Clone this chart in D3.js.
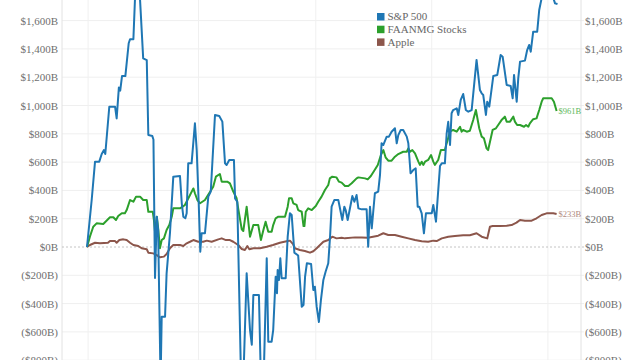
<!DOCTYPE html>
<html>
<head>
<meta charset="utf-8">
<script src="https://cdn.jsdelivr.net/npm/d3@7"></script>
<style>
  html, body { margin: 0; padding: 0; background: #fff; }
  svg { display: block; font-family: "Liberation Serif", "DejaVu Serif", serif; }
</style>
</head>
<body>
<svg id="chart" width="640" height="360"></svg>
<script>
// x unit: weeks since start of series
const seriesNames = ["S&P 500", "FAANMG Stocks", "Apple"];
const seriesColors = ["#1f77b4", "#2ca02c", "#8c564b"];
const yTicks = [-800, -600, -400, -200, 0, 200, 400, 600, 800, 1000, 1200, 1400, 1600];
const yearGridWeeks = [0.5, 50, 102.6, 154.6, 206.7];

const sp500 = [
 [0,0],[2.1,332],[3.6,603],[5.5,603],[6.6,657],[7.6,685],[8.2,657],[10,991],[12.6,991],[13.3,909],
 [14.3,1128],[14.9,1105],[15.7,1208],[17.2,1208],[18.7,1440],[19.3,1468],[20.8,1468],[21.5,1745],[22.6,1900],
 [23.8,1745],[25.2,1333],[26.8,1321],[27.5,791],[29.3,784],[29.8,760],[30.5,-219],[31.3,214],[31.9,120],
 [33.0,-950],[33.5,-493],[35.0,-493],[35.7,-186],[37.2,97],[38.7,497],[41.7,502],[42.5,309],[43.2,214],
 [44.1,203],[44.7,238],[45.4,591],[46.9,591],[48.4,874],[49.2,685],[50.1,309],[50.8,-33],[51.4,97],[52.9,97],
 [54.4,356],[55.5,391],[57.4,933],[59.3,926],[60.7,886],[61.9,591],[62.6,580],[63.8,615],[65.9,615],[66.4,343],
 [67.4,320],[69.1,-950],[70.1,-950],[71.6,-186],[73.1,-587],[73.9,-690],[74.6,-339],[77.1,-339],[78.0,-950],
 [79.2,-950],[80.6,-80],[81.3,-669],[82.8,-669],[83.5,-587],[84.6,-210],[85.2,-327],[85.5,-163],[86.1,-233],
 [86.7,-80],[87.3,-221],[89.1,-221],[90.0,73],[91.0,238],[91.8,226],[93.0,-40],[94.7,-60],[96.3,-422],[97.1,-410],
 [97.8,-210],[98.6,-115],[100.5,-120],[101.5,-304],[102.2,-281],[103.0,-422],[104.0,-530],[104.9,-375],
 [106.0,-233],[107.0,-175],[108.2,-115],[109.0,73],[109.7,285],[110.9,332],[112.7,332],[114.5,191],[115.4,285],
 [116.0,261],[116.9,191],[119.0,360],[119.9,320],[120.9,367],[121.7,273],[123.2,266],[125.4,266],[126.1,2],
 [126.9,285],[127.7,132],[129.1,380],[130.6,391],[131.4,509],[132.1,733],[132.9,721],[134.4,780],[135.4,780],
 [136.6,815],[138.1,839],[138.9,733],[139.6,791],[140.7,827],[141.8,827],[143.4,780],[144.1,733],[145.1,521],
 [146.3,544],[147.4,556],[148.3,285],[149.0,285],[150.1,238],[151.1,97],[152.0,238],[154.6,238],[155.3,297],
 [156.5,179],[158.3,572],[159.1,591],[160.5,591],[161.3,803],[162.0,885],[162.8,721],[163.5,945],[164.2,968],
 [165.8,980],[166.5,933],[167.6,1039],[168.7,1081],[169.9,968],[171.0,956],[172.5,968],[174.7,1322],[176.2,1110],
 [177.0,1086],[177.7,1074],[178.9,933],[179.5,1027],[180.4,992],[181.5,1122],[182.2,1208],[184.0,1216],
 [185.5,1357],[186.4,1345],[188.2,1145],[190.0,1138],[190.9,1051],[191.5,1216],[192.7,1027],[193.4,1192],
 [194.2,1310],[196.4,1317],[197.4,1392],[198.3,1428],[199.0,1380],[200.1,1522],[201.9,1522],[202.8,1675],
 [203.9,1760],[205.4,1830],[207.6,1820],[209.1,1760],[209.9,1722],[211.0,1717]
];

const faanmg = [
 [0,0],[1.3,73],[2.8,143],[4.3,167],[7.3,163],[10.3,210],[11.8,210],[13.0,191],[14.0,219],[15.6,238],[17.0,238],
 [17.8,261],[19.3,332],[20.8,320],[22.0,356],[23.8,356],[25.2,332],[26.8,332],[27.5,249],[29.5,249],[30.0,191],
 [30.5,108],[31.3,214],[32.0,120],[32.7,-9],[33.5,49],[34.5,61],[35.7,120],[36.9,155],[38.0,214],[38.7,273],
 [41.7,273],[42.9,285],[43.9,297],[46.2,367],[47.7,414],[48.4,380],[49.5,332],[50.7,309],[52.9,332],[55.2,391],
 [56.6,426],[57.8,497],[59.6,516],[60.4,462],[62.9,462],[64.1,450],[65.6,391],[67.1,344],[67.8,273],[69.4,125],
 [70.1,113],[71.6,285],[72.6,143],[73.1,73],[74.6,155],[76.8,155],[78.0,49],[79.1,120],[80.1,179],[81.3,108],
 [82.8,108],[83.5,155],[84.6,203],[85.8,214],[88.8,214],[90.0,285],[90.6,344],[91.8,344],[92.5,309],[94.0,297],
 [94.7,261],[96.3,249],[97.1,148],[97.5,148],[98.1,249],[99.2,273],[100.8,261],[102.6,290],[103.7,320],
 [105.2,356],[106.7,403],[108.2,438],[108.9,485],[110.0,497],[111.9,492],[113.0,462],[114.2,455],[115.7,431],
 [117.2,431],[118.7,450],[120.9,485],[121.7,492],[124.7,485],[125.9,478],[127.3,502],[128.8,539],[130.4,580],
 [131.8,650],[132.9,685],[133.9,634],[135.1,610],[136.6,610],[138.1,638],[139.6,657],[141.8,673],[143.4,673],
 [144.1,697],[144.9,673],[145.9,685],[147.1,662],[148.6,603],[149.3,580],[150.1,603],[150.8,580],[151.6,603],
 [153.0,615],[154.3,650],[155.3,603],[156.0,580],[157.5,615],[158.7,685],[160.5,685],[161.3,733],[162.8,815],
 [164.2,827],[165.8,815],[167.3,850],[168.0,815],[168.7,827],[170.3,815],[171.7,821],[173.2,897],[174.4,968],
 [175.9,839],[177.0,780],[178.0,768],[179.2,697],[179.9,685],[181.9,827],[183.4,839],[184.4,862],[185.9,897],
 [187.4,921],[188.2,886],[189.7,886],[191.2,921],[191.9,886],[192.9,862],[194.2,862],[196.0,850],[196.9,862],
 [197.9,850],[198.6,874],[200.1,903],[201.6,909],[202.8,968],[203.9,1027],[204.6,1051],[208.4,1051],
 [209.4,1027],[210.6,961]
];

const apple = [
 [0,0],[1.3,14],[3.6,30],[5.8,26],[9.4,30],[10.3,42],[12.6,42],[13.3,30],[14.5,49],[16.3,54],[17.8,49],
 [19.3,30],[20.8,14],[23.0,7],[24.5,-9],[26.8,-16],[27.5,-40],[29.7,-45],[31.3,-57],[32.7,-73],[34.5,-68],
 [35.7,-49],[37.2,-9],[38.7,14],[41.7,14],[43.2,7],[44.7,26],[46.2,37],[47.7,49],[49.9,37],[52.1,37],[53.7,45],
 [55.9,37],[58.9,54],[60.4,61],[62.3,49],[64.1,49],[65.6,37],[67.8,14],[69.4,-14],[70.8,-21],[71.9,7],
 [72.8,-16],[74.6,-9],[77.6,-9],[80.6,2],[83.4,14],[86.5,30],[89.5,40],[91.0,45],[92.4,20],[93.2,-9],
 [95.5,-21],[97.7,-28],[100.0,-40],[101.5,-30],[103.0,-9],[104.5,14],[106.0,37],[108.2,49],[110.0,73],
 [111.9,61],[114.2,66],[115.7,61],[120.2,68],[123.2,68],[125.9,66],[127.7,71],[130.6,80],[132.9,97],[135.1,85],
 [138.1,85],[141.1,73],[144.1,61],[147.1,49],[150.1,40],[153.0,37],[155.3,45],[156.8,42],[159.1,61],[162.0,73],
 [165.0,78],[168.7,83],[171.7,83],[174.7,97],[177.0,73],[179.5,61],[180.7,143],[181.9,148],[185.2,148],
 [188.2,150],[190.4,155],[192.6,172],[194.2,191],[196.4,186],[199.4,186],[201.6,203],[203.9,226],[206.1,238],
 [209.1,238],[210.6,233]
];

const allSeries = [sp500, faanmg, apple];
const endLabels = [null, "$961B", "$233B"];
const endLabelColors = [null, "#5cb85c", "#b08a80"];

const W = 640, H = 360;
const plotLeft = 62, plotRight = 581;
const svg = d3.select("#chart");

const x = d3.scaleLinear().domain([0, 211]).range([87, 557.5]);
const y = d3.scaleLinear().domain([-800, 1600]).range([360.2, 20.6]);

const fmt = v => v < 0 ? "($" + d3.format(",")(-v) + "B)" : "$" + d3.format(",")(v) + "B";

// horizontal grid
svg.append("g").selectAll("line").data(yTicks.filter(d => d !== 0)).join("line")
  .attr("x1", plotLeft).attr("x2", plotRight + 3)
  .attr("y1", d => y(d)).attr("y2", d => y(d))
  .attr("stroke", "#efefef").attr("stroke-width", 1);

// vertical grid
svg.append("g").selectAll("line").data(yearGridWeeks).join("line")
  .attr("x1", d => x(d)).attr("x2", d => x(d))
  .attr("y1", 0).attr("y2", H)
  .attr("stroke", "#f0f0f0").attr("stroke-width", 1);

// axis lines
svg.append("line").attr("x1", plotLeft).attr("x2", plotLeft).attr("y1", 0).attr("y2", H)
  .attr("stroke", "#e2e2e2");
svg.append("line").attr("x1", plotRight).attr("x2", plotRight).attr("y1", 0).attr("y2", H)
  .attr("stroke", "#e2e2e2");

// zero line
svg.append("line").attr("x1", plotLeft).attr("x2", plotRight + 3)
  .attr("y1", y(0)).attr("y2", y(0))
  .attr("stroke", "#b5b5b5").attr("stroke-width", 0.8).attr("stroke-dasharray", "2,2");

// axes labels
const leftAxis = d3.axisLeft(y).tickValues(yTicks).tickFormat(fmt).tickSize(0).tickPadding(4);
const rightAxis = d3.axisRight(y).tickValues(yTicks).tickFormat(fmt).tickSize(0).tickPadding(4);
const gl = svg.append("g").attr("transform", `translate(${plotLeft},0)`).call(leftAxis);
const gr = svg.append("g").attr("transform", `translate(${plotRight},0)`).call(rightAxis);
[gl, gr].forEach(g => {
  g.select(".domain").remove();
  g.selectAll("text").attr("fill", "#6f6f6f").attr("font-size", 11)
    .attr("font-family", "Liberation Serif, serif");
});

// lines
const line = d3.line().x(d => x(d[0])).y(d => y(d[1])).curve(d3.curveLinear);
// draw apple, faanmg first then sp500 on top? reference: blue over others
[2, 1, 0].forEach(i => {
  svg.append("path").datum(allSeries[i])
    .attr("d", line)
    .attr("fill", "none")
    .attr("stroke", seriesColors[i])
    .attr("stroke-width", 2)
    .attr("stroke-linejoin", "round");
});

// end labels
[1, 2].forEach(i => {
  const last = allSeries[i][allSeries[i].length - 1];
  svg.append("text")
    .attr("x", x(last[0]) + 2).attr("y", y(last[1]))
    .attr("dy", "0.35em")
    .attr("font-size", 8.5)
    .attr("fill", endLabelColors[i])
    .text(endLabels[i]);
});

// legend
const lg = svg.append("g").attr("transform", "translate(377,13)");
seriesNames.forEach((n, i) => {
  const row = lg.append("g").attr("transform", `translate(0,${i * 12.7})`);
  row.append("rect").attr("width", 7.5).attr("height", 7.5).attr("fill", seriesColors[i]);
  row.append("text").attr("x", 10.5).attr("y", 7.2).attr("font-size", 11)
    .attr("fill", "#666").text(n);
});
</script>
</body>
</html>
